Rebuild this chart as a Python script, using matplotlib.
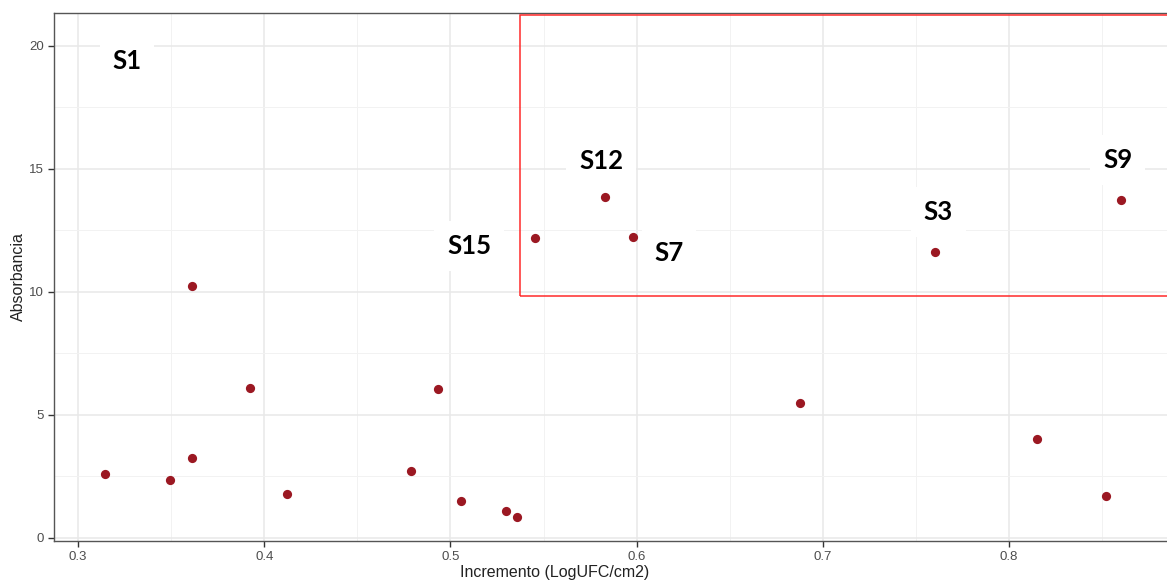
import numpy as np
import matplotlib
matplotlib.use("Agg")
import matplotlib.pyplot as plt
from matplotlib.patches import Rectangle
from matplotlib.ticker import MultipleLocator

plt.rcParams["font.family"] = ["Liberation Sans", "DejaVu Sans"]

# scatter data
incremento = [0.3145, 0.3494, 0.3612, 0.3612, 0.3924, 0.4122, 0.4788, 0.4933,
              0.5057, 0.5299, 0.5358, 0.5454, 0.5830, 0.5981, 0.6878, 0.7603,
              0.8150, 0.8521, 0.8601]
absorbancia = [2.60, 2.36, 3.25, 10.24, 6.10, 1.79, 2.72, 6.06,
               1.50, 1.10, 0.85, 12.20, 13.86, 12.24, 5.49, 11.63,
               4.02, 1.71, 13.74]

# sample labels
lab_text = ["S1", "S12", "S15", "S7", "S3", "S9"]
lab_x = [0.3263, 0.5809, 0.5100, 0.6174, 0.7619, 0.8585]
lab_y = [19.39, 15.33, 11.87, 11.59, 13.25, 15.37]

# highlighted region
region_x0, region_y0, region_y1 = 0.5374, 9.84, 21.26

W, H = 1167, 582
fig = plt.figure(figsize=(W / 100, H / 100), dpi=100)
ax = fig.add_axes([54 / W, (H - 541) / H, (1172 - 54) / W, (541 - 13) / H])

ax.scatter(incremento, absorbancia, s=44, color="#9B1822", zorder=3, linewidths=0)

ax.set_xlim(0.2871, 0.3 + (1172 - 78) / 1862)
ax.set_ylim(-0.122, 21.34)
ax.xaxis.set_minor_locator(MultipleLocator(0.05))
ax.yaxis.set_major_locator(MultipleLocator(5))
ax.yaxis.set_minor_locator(MultipleLocator(2.5))
ax.set_xticks(np.arange(0.3, 0.81, 0.1))
ax.set_xticklabels(["0.3", "0.4", "0.5", "0.6", "0.7", "0.8"])

ax.grid(which="major", color="#E8E8E8", lw=1.1, zorder=0)
ax.grid(which="minor", color="#F2F2F2", lw=0.7, zorder=0)
ax.set_axisbelow(True)
ax.tick_params(which="major", length=4, width=1, color="#333333",
               labelsize=9.5, labelcolor="#4D4D4D", pad=3)
ax.tick_params(which="minor", length=0)
for s in ["left", "bottom", "top"]:
    ax.spines[s].set_color("#555555")
    ax.spines[s].set_linewidth(1.0)
ax.spines["right"].set_visible(False)

ax.set_xlabel("Incremento (LogUFC/cm2)", fontsize=11.5, color="#222222")
ax.xaxis.set_label_coords((555 - 54) / (1172 - 54), -0.045)
ax.set_ylabel("Absorbancia", fontsize=11.5, color="#222222")
ax.yaxis.set_label_coords(-0.025, 0.5)

ax.add_patch(Rectangle((region_x0, region_y0), 1.0, region_y1 - region_y0,
                       fill=False, ec="#FF2A2A", lw=1.1, zorder=4))

for t, x, y in zip(lab_text, lab_x, lab_y):
    ax.text(x, y, t, ha="center", va="center", fontsize=18.5, fontweight="bold",
            family=["Lato", "DejaVu Sans"], color="black", zorder=5,
            bbox=dict(boxstyle="square,pad=0.5", fc="white", ec="none"))

fig.savefig("out.png", dpi=100)
